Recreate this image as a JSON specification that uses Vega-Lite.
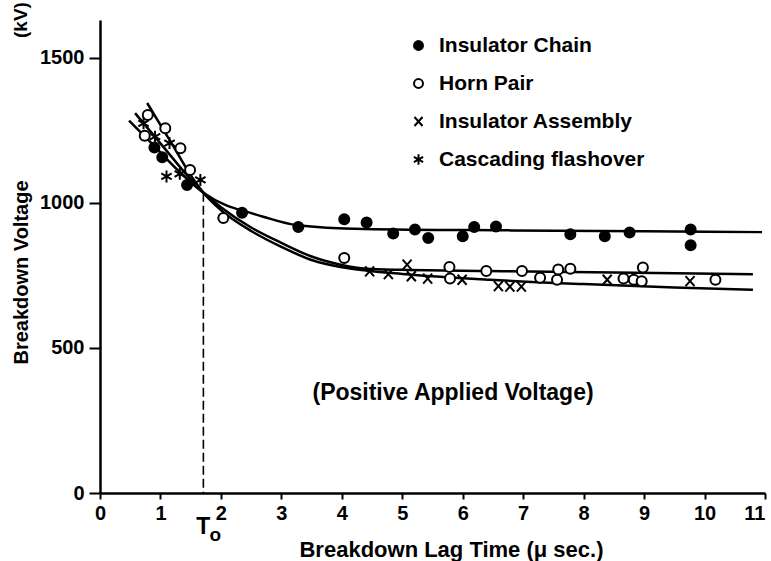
{
  "$schema": "https://vega.github.io/schema/vega-lite/v6.json",
  "width": 665,
  "height": 473,
  "autosize": {"type": "none"},
  "padding": {"left": 100, "top": 20, "right": 6, "bottom": 68},
  "background": "white",
  "config": {
    "view": {"stroke": null},
    "font": "Liberation Sans",
    "axis": {
      "grid": false,
      "domainColor": "black",
      "domainWidth": 2.5,
      "tickColor": "black",
      "tickWidth": 2,
      "labelColor": "black",
      "labelFont": "Liberation Sans",
      "labelFontWeight": "bold",
      "labelFontSize": 20,
      "titleColor": "black",
      "titleFont": "Liberation Sans",
      "titleFontWeight": "bold",
      "titleFontSize": 20
    }
  },
  "datasets": {
    "points": [
      {"series": "Insulator Chain", "x": 0.90, "y": 1191},
      {"series": "Insulator Chain", "x": 1.03, "y": 1157},
      {"series": "Insulator Chain", "x": 1.44, "y": 1061},
      {"series": "Insulator Chain", "x": 2.35, "y": 966},
      {"series": "Insulator Chain", "x": 3.28, "y": 917},
      {"series": "Insulator Chain", "x": 4.04, "y": 943},
      {"series": "Insulator Chain", "x": 4.41, "y": 932},
      {"series": "Insulator Chain", "x": 4.85, "y": 894},
      {"series": "Insulator Chain", "x": 5.21, "y": 908},
      {"series": "Insulator Chain", "x": 5.43, "y": 879},
      {"series": "Insulator Chain", "x": 6.00, "y": 885},
      {"series": "Insulator Chain", "x": 6.19, "y": 917},
      {"series": "Insulator Chain", "x": 6.55, "y": 918},
      {"series": "Insulator Chain", "x": 7.78, "y": 892},
      {"series": "Insulator Chain", "x": 8.35, "y": 885},
      {"series": "Insulator Chain", "x": 8.76, "y": 898},
      {"series": "Insulator Chain", "x": 9.77, "y": 908},
      {"series": "Insulator Chain", "x": 9.77, "y": 854},
      {"series": "Horn Pair", "x": 0.79, "y": 1303},
      {"series": "Horn Pair", "x": 0.74, "y": 1231},
      {"series": "Horn Pair", "x": 1.08, "y": 1257},
      {"series": "Horn Pair", "x": 1.33, "y": 1188},
      {"series": "Horn Pair", "x": 1.49, "y": 1113},
      {"series": "Horn Pair", "x": 2.04, "y": 948},
      {"series": "Horn Pair", "x": 4.04, "y": 810},
      {"series": "Horn Pair", "x": 5.78, "y": 779},
      {"series": "Horn Pair", "x": 5.79, "y": 739},
      {"series": "Horn Pair", "x": 6.39, "y": 765},
      {"series": "Horn Pair", "x": 6.98, "y": 765},
      {"series": "Horn Pair", "x": 7.28, "y": 742},
      {"series": "Horn Pair", "x": 7.58, "y": 770},
      {"series": "Horn Pair", "x": 7.78, "y": 773},
      {"series": "Horn Pair", "x": 7.56, "y": 735},
      {"series": "Horn Pair", "x": 8.66, "y": 739},
      {"series": "Horn Pair", "x": 8.83, "y": 735},
      {"series": "Horn Pair", "x": 8.96, "y": 730},
      {"series": "Horn Pair", "x": 8.98, "y": 777},
      {"series": "Horn Pair", "x": 10.18, "y": 735},
      {"series": "Insulator Assembly", "x": 4.46, "y": 764},
      {"series": "Insulator Assembly", "x": 4.77, "y": 754},
      {"series": "Insulator Assembly", "x": 5.08, "y": 787},
      {"series": "Insulator Assembly", "x": 5.15, "y": 747},
      {"series": "Insulator Assembly", "x": 5.42, "y": 739},
      {"series": "Insulator Assembly", "x": 5.99, "y": 735},
      {"series": "Insulator Assembly", "x": 6.59, "y": 713},
      {"series": "Insulator Assembly", "x": 6.78, "y": 711},
      {"series": "Insulator Assembly", "x": 6.97, "y": 711},
      {"series": "Insulator Assembly", "x": 8.39, "y": 735},
      {"series": "Insulator Assembly", "x": 9.76, "y": 730},
      {"series": "Cascading flashover", "x": 0.72, "y": 1274},
      {"series": "Cascading flashover", "x": 0.91, "y": 1228},
      {"series": "Cascading flashover", "x": 1.15, "y": 1206},
      {"series": "Cascading flashover", "x": 1.10, "y": 1091},
      {"series": "Cascading flashover", "x": 1.32, "y": 1100},
      {"series": "Cascading flashover", "x": 1.66, "y": 1079}
    ],
    "curves": [
      {"curve": "chain", "x": 0.48, "y": 1283},
      {"curve": "chain", "x": 0.9, "y": 1195},
      {"curve": "chain", "x": 1.3, "y": 1110},
      {"curve": "chain", "x": 1.71, "y": 1035},
      {"curve": "chain", "x": 2.1, "y": 990},
      {"curve": "chain", "x": 2.45, "y": 968},
      {"curve": "chain", "x": 2.7, "y": 952},
      {"curve": "chain", "x": 3.26, "y": 923},
      {"curve": "chain", "x": 4.36, "y": 910},
      {"curve": "chain", "x": 6.8, "y": 905},
      {"curve": "chain", "x": 9.0, "y": 902},
      {"curve": "chain", "x": 10.95, "y": 899},
      {"curve": "horn", "x": 0.58, "y": 1309},
      {"curve": "horn", "x": 1.0, "y": 1205},
      {"curve": "horn", "x": 1.4, "y": 1105},
      {"curve": "horn", "x": 1.71, "y": 1035},
      {"curve": "horn", "x": 2.0, "y": 985},
      {"curve": "horn", "x": 2.5, "y": 915},
      {"curve": "horn", "x": 3.0, "y": 862},
      {"curve": "horn", "x": 3.5, "y": 815},
      {"curve": "horn", "x": 4.0, "y": 786},
      {"curve": "horn", "x": 4.4, "y": 773},
      {"curve": "horn", "x": 5.0, "y": 769},
      {"curve": "horn", "x": 6.45, "y": 765},
      {"curve": "horn", "x": 8.5, "y": 760},
      {"curve": "horn", "x": 10.8, "y": 754},
      {"curve": "assembly", "x": 0.78, "y": 1344},
      {"curve": "assembly", "x": 1.2, "y": 1200},
      {"curve": "assembly", "x": 1.5, "y": 1095},
      {"curve": "assembly", "x": 1.71, "y": 1035},
      {"curve": "assembly", "x": 2.0, "y": 975},
      {"curve": "assembly", "x": 2.5, "y": 903},
      {"curve": "assembly", "x": 3.0, "y": 848},
      {"curve": "assembly", "x": 3.5, "y": 803},
      {"curve": "assembly", "x": 4.0, "y": 778},
      {"curve": "assembly", "x": 4.4, "y": 767},
      {"curve": "assembly", "x": 5.0, "y": 755},
      {"curve": "assembly", "x": 6.45, "y": 735},
      {"curve": "assembly", "x": 8.0, "y": 720},
      {"curve": "assembly", "x": 9.5, "y": 708},
      {"curve": "assembly", "x": 10.8, "y": 700}
    ],
    "t0": [{"x": 1.71, "y": 1035}],
    "notes": [
      {"kind": "caption", "x": 5.84, "y": 345, "label": "(Positive Applied Voltage)"},
      {"kind": "T", "x": 1.71, "y": 0, "label": "T"},
      {"kind": "sub", "x": 1.71, "y": 0, "label": "o"},
      {"kind": "unit", "x": 0, "y": 1630, "label": "(kV)"}
    ]
  },
  "encoding": {
    "x": {
      "field": "x",
      "type": "quantitative",
      "scale": {"domain": [0, 11], "nice": false, "zero": false},
      "axis": {
        "values": [0, 1, 2, 3, 4, 5, 6, 7, 8, 9, 10, 11],
        "format": "d",
        "tickSize": 6,
        "labelPadding": 4,
        "labelAlign": {"condition": {"test": "datum.value == 11", "value": "right"}, "value": "center"},
        "labelDx": {"condition": {"test": "datum.value == 11", "value": 5}, "value": 0},
        "title": "Breakdown Lag Time  (μ sec.)",
        "titleFontSize": 22,
        "titleX": 351,
        "titleY": 63,
        "titleAlign": "center",
        "titleBaseline": "alphabetic",
        "titleAnchor": null,
        "labelFlush": false,
        "labelOverlap": false
      }
    },
    "y": {
      "field": "y",
      "type": "quantitative",
      "scale": {"domain": [0, 1630], "nice": false, "zero": false},
      "axis": {
        "values": [0, 500, 1000, 1500],
        "format": "d",
        "tickSize": 11,
        "labelPadding": 5,
        "title": "Breakdown Voltage",
        "titleAngle": 270,
        "titleX": -79,
        "titleY": 252,
        "titleAlign": "center",
        "titleBaseline": "middle",
        "titleAnchor": null,
        "labelFlush": false,
        "labelOverlap": false
      }
    }
  },
  "layer": [
    {
      "data": {"name": "curves"},
      "mark": {"type": "line", "interpolate": "monotone", "stroke": "black", "strokeWidth": 2.5},
      "encoding": {"detail": {"field": "curve"}}
    },
    {
      "data": {"name": "t0"},
      "mark": {"type": "rule", "stroke": "black", "strokeWidth": 1.6, "strokeDash": [9, 4]},
      "encoding": {"y2": {"datum": 0}}
    },
    {
      "data": {"name": "points"},
      "mark": {"type": "point", "stroke": "black", "strokeWidth": 2, "size": 100, "opacity": 1},
      "encoding": {
        "shape": {
          "field": "series",
          "type": "nominal",
          "scale": {
            "domain": ["Insulator Chain", "Horn Pair", "Insulator Assembly", "Cascading flashover"],
            "range": ["circle", "circle", "M-0.9,-1L0.9,1M-0.9,1L0.9,-1", "M0,-1.2L0,1.2M-1.04,-0.6L1.04,0.6M-1.04,0.6L1.04,-0.6"]
          },
          "legend": {
            "title": null,
            "orient": "none",
            "legendX": 308,
            "legendY": 15,
            "padding": 0,
            "labelFont": "Liberation Sans",
            "labelFontWeight": "bold",
            "labelFontSize": 21,
            "labelColor": "black",
            "labelLimit": 400,
            "labelOffset": 10,
            "rowPadding": 16,
            "symbolSize": 80,
            "symbolStrokeWidth": 2,
            "symbolStrokeColor": "black",
            "symbolOpacity": 1,
            "encode": {
              "symbols": {
                "update": {
                  "stroke": {"value": "black"},
                  "strokeWidth": {"value": 2},
                  "opacity": {"value": 1}
                }
              }
            }
          }
        },
        "fill": {
          "field": "series",
          "type": "nominal",
          "scale": {
            "domain": ["Insulator Chain", "Horn Pair", "Insulator Assembly", "Cascading flashover"],
            "range": ["black", "white", "black", "black"]
          },
          "legend": {
            "title": null,
            "orient": "none",
            "legendX": 308,
            "legendY": 15,
            "padding": 0,
            "labelFont": "Liberation Sans",
            "labelFontWeight": "bold",
            "labelFontSize": 21,
            "labelColor": "black",
            "labelLimit": 400,
            "labelOffset": 10,
            "rowPadding": 16,
            "symbolSize": 80,
            "symbolStrokeWidth": 2,
            "symbolStrokeColor": "black",
            "symbolOpacity": 1,
            "encode": {
              "symbols": {
                "update": {
                  "stroke": {"value": "black"},
                  "strokeWidth": {"value": 2},
                  "opacity": {"value": 1}
                }
              }
            }
          }
        }
      }
    },
    {
      "data": {"name": "notes"},
      "transform": [{"filter": "datum.kind == 'caption'"}],
      "mark": {"type": "text", "fontSize": 23, "fontWeight": "bold", "font": "Liberation Sans", "align": "center", "baseline": "middle", "color": "black"},
      "encoding": {"text": {"field": "label"}}
    },
    {
      "data": {"name": "notes"},
      "transform": [{"filter": "datum.kind == 'T'"}],
      "mark": {"type": "text", "fontSize": 23, "fontWeight": "bold", "font": "Liberation Sans", "align": "center", "baseline": "middle", "dx": 0, "dy": 34, "color": "black"},
      "encoding": {"text": {"field": "label"}}
    },
    {
      "data": {"name": "notes"},
      "transform": [{"filter": "datum.kind == 'sub'"}],
      "mark": {"type": "text", "fontSize": 19, "fontWeight": "bold", "font": "Liberation Sans", "align": "center", "baseline": "middle", "dx": 12, "dy": 42, "color": "black"},
      "encoding": {"text": {"field": "label"}}
    },
    {
      "data": {"name": "notes"},
      "transform": [{"filter": "datum.kind == 'unit'"}],
      "mark": {"type": "text", "fontSize": 19, "fontWeight": "bold", "font": "Liberation Sans", "align": "center", "baseline": "middle", "angle": 270, "dx": 0, "dy": -79, "color": "black"},
      "encoding": {"text": {"field": "label"}}
    }
  ]
}
